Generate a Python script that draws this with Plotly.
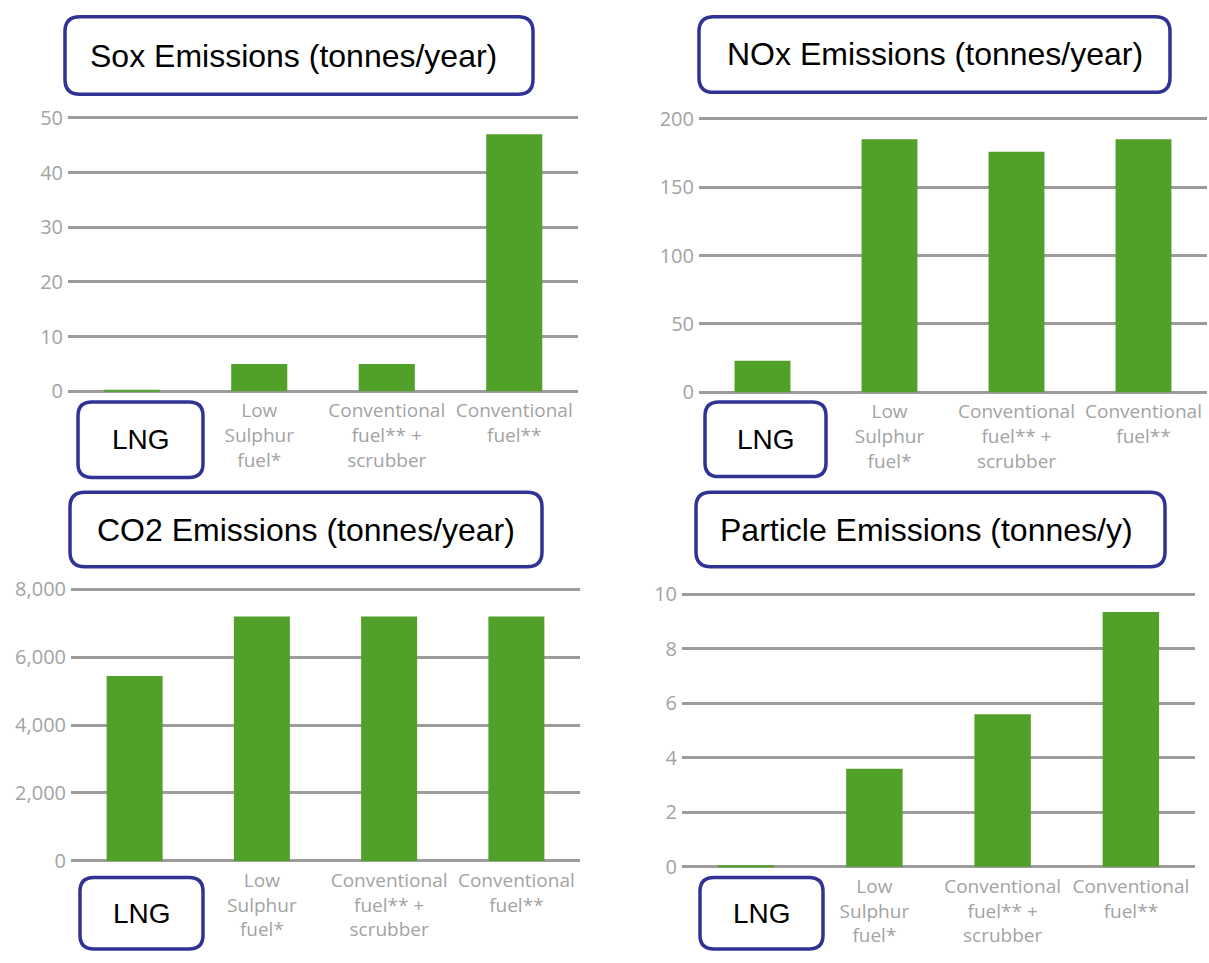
import plotly.graph_objects as go

# Canvas size in pixels
W, H = 1209, 963

# Categories shared by all four panels
fuels = ["LNG", "Low Sulphur fuel*", "Conventional fuel** + scrubber", "Conventional fuel**"]
fuel_labels = ["", "Low<br>Sulphur<br>fuel*", "Conventional<br>fuel** +<br>scrubber", "Conventional<br>fuel**"]

# Emission values per fuel option
sox_tonnes = [0.2, 5, 5, 47]
nox_tonnes = [23, 185, 176, 185]
co2_tonnes = [5450, 7200, 7200, 7200]
particle_tonnes = [0.04, 3.6, 5.6, 9.35]

# Panel titles
titles = [
    "Sox Emissions (tonnes/year)",
    "NOx Emissions (tonnes/year)",
    "CO2 Emissions (tonnes/year)",
    "Particle Emissions (tonnes/y)",
]

GREEN = "#50a02a"
GRID = "#9c9c9c"
LABEL = "#a3a3a3"
NAVY = "#303394"


def fx(x):
    return x / W


def fy(y):
    return 1 - y / H


# Panel geometry in pixels: plot left/right, pixel row of value 0 and of the top tick
panels = [
    dict(vals=sox_tonnes, x0=68, x1=578, y0=389, y1=110, top=50, dtick=10, fmt=""),
    dict(vals=nox_tonnes, x0=699, x1=1207, y0=390, y1=111, top=200, dtick=50, fmt=""),
    dict(vals=co2_tonnes, x0=71, x1=580, y0=868, y1=591, top=8000, dtick=2000, fmt=",d"),
    dict(vals=particle_tonnes, x0=682, x1=1195, y0=874, y1=596, top=10, dtick=2, fmt=""),
]

fig = go.Figure()
layout = dict(
    width=W, height=H,
    margin=dict(l=0, r=0, t=0, b=0),
    paper_bgcolor="white", plot_bgcolor="white",
    showlegend=False, bargap=0.56,
)

for i, p in enumerate(panels, start=1):
    sfx = "" if i == 1 else str(i)
    pad = 0.015 * p["top"]
    lo, hi = -pad, p["top"] + pad
    ppu = (p["y0"] - p["y1"]) / p["top"]
    ybot = p["y0"] - lo * ppu
    ytop = p["y0"] - hi * ppu
    fig.add_trace(go.Bar(
        x=fuels, y=p["vals"], marker=dict(color=GREEN, line=dict(width=0)),
        xaxis="x" + sfx, yaxis="y" + sfx, hoverinfo="skip",
    ))
    layout["xaxis" + sfx] = dict(
        domain=[fx(p["x0"]), fx(p["x1"])], anchor="y" + sfx,
        type="category", range=[-0.5, 3.5],
        tickvals=fuels, ticktext=fuel_labels,
        showgrid=False, zeroline=False, showline=False,
        ticks="", ticklabelstandoff=2,
        tickfont=dict(family="Open Sans", size=19, color=LABEL),
        tickangle=0, fixedrange=True,
    )
    layout["yaxis" + sfx] = dict(
        domain=[fy(ybot), fy(ytop)], anchor="x" + sfx,
        range=[lo, hi], tick0=0, dtick=p["dtick"], tickformat=p["fmt"],
        showgrid=True, gridcolor=GRID, gridwidth=2.5,
        zeroline=True, zerolinecolor=GRID, zerolinewidth=2.5,
        showline=False, ticks="", ticklabelstandoff=4,
        tickfont=dict(family="Open Sans", size=20, color=LABEL),
        fixedrange=True,
    )


def rounded_box(x0, y0, x1, y1, r):
    """Rounded rectangle path in paper coordinates from pixel corners."""
    pts = [
        ("M", x0 + r, y0), ("L", x1 - r, y0), ("Q", x1, y0, x1, y0 + r),
        ("L", x1, y1 - r), ("Q", x1, y1, x1 - r, y1),
        ("L", x0 + r, y1), ("Q", x0, y1, x0, y1 - r),
        ("L", x0, y0 + r), ("Q", x0, y0, x0 + r, y0),
    ]
    parts = []
    for seg in pts:
        cmd, coords = seg[0], seg[1:]
        xy = []
        for k in range(0, len(coords), 2):
            xy.append(f"{fx(coords[k]):.5f},{fy(coords[k + 1]):.5f}")
        parts.append(cmd + " ".join(xy))
    return " ".join(parts) + " Z"


shapes = []
annotations = []

# Title boxes: pixel box and left edge of the text
title_boxes = [
    ((65, 7, 533, 86), 88, 47),
    ((699, 7, 1170, 84), 725, 45),
    ((70, 492, 542, 568), 95, 530),
    ((696, 492, 1165, 568), 718, 530),
]
for title, (box, tx, ty) in zip(titles, title_boxes):
    shapes.append(dict(type="path", xref="paper", yref="paper", layer="above",
                       path=rounded_box(*box, 15), fillcolor="white",
                       line=dict(color=NAVY, width=3.5)))
    annotations.append(dict(text=title, x=fx(tx), y=fy(ty), xref="paper", yref="paper",
                            xanchor="left", yanchor="middle", showarrow=False,
                            font=dict(family="Liberation Sans, Arial", size=32, color="black")))

# Boxed label for the LNG category under each panel
lng_boxes = [(78, 400, 203, 477), (705, 400, 826, 476), (80, 885, 203, 958), (700, 885, 823, 958)]
for box in lng_boxes:
    shapes.append(dict(type="path", xref="paper", yref="paper", layer="above",
                       path=rounded_box(*box, 14), fillcolor="white",
                       line=dict(color=NAVY, width=3.5)))
    cx = (box[0] + box[2]) / 2
    cy = (box[1] + box[3]) / 2
    annotations.append(dict(text=fuels[0], x=fx(cx), y=fy(cy), xref="paper", yref="paper",
                            xanchor="center", yanchor="middle", showarrow=False,
                            font=dict(family="Liberation Sans, Arial", size=28, color="black")))

layout["shapes"] = shapes
layout["annotations"] = annotations
fig.update_layout(**layout)

fig.write_html("out.html")
